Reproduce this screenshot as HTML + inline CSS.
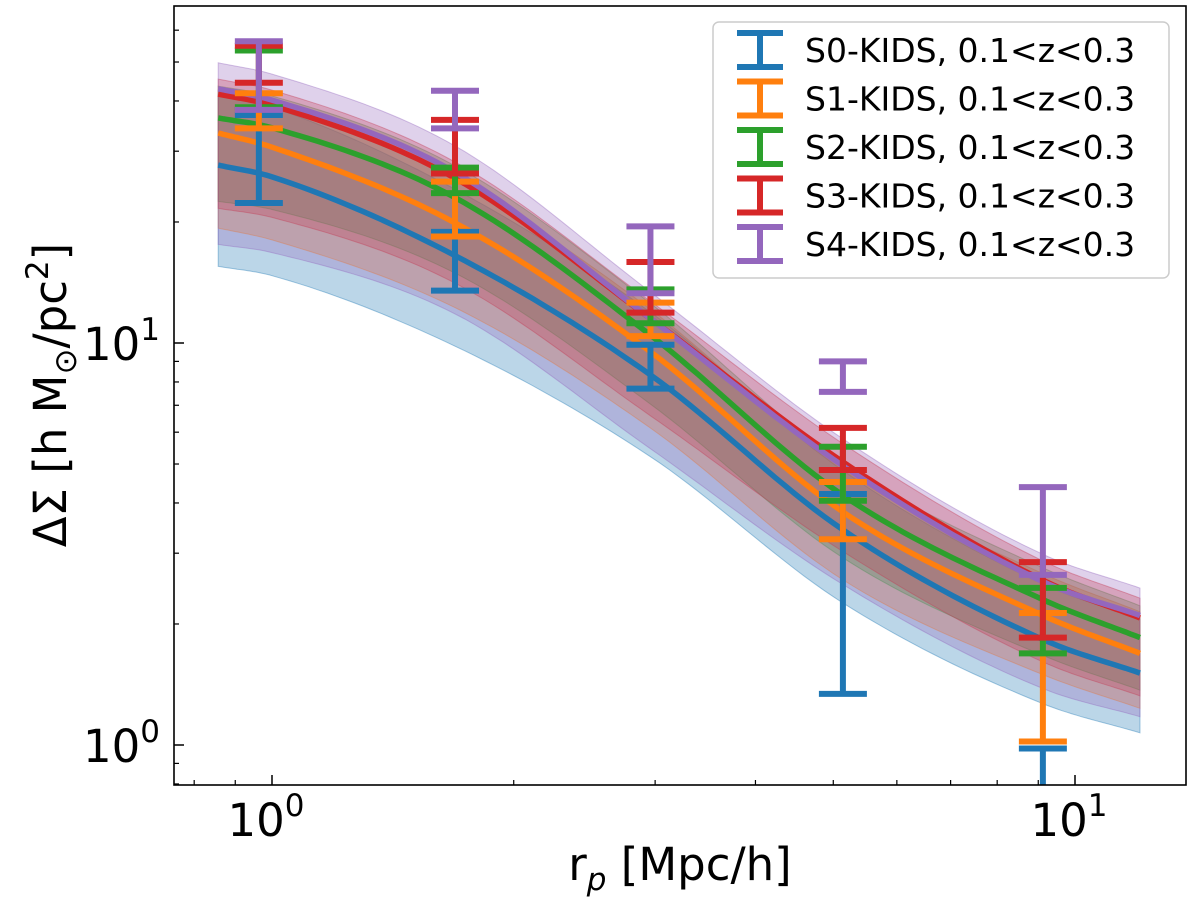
<!DOCTYPE html>
<html><head><meta charset="utf-8"><style>
body{margin:0;background:#fff;width:1200px;height:900px;overflow:hidden}
svg{display:block;font-family:"DejaVu Sans","Liberation Sans",sans-serif}
</style></head><body>
<svg id="chart" width="1200" height="900" viewBox="0 0 1200 900">
<defs><clipPath id="plotclip"><rect x="174" y="6" width="1012" height="779"/></clipPath></defs>
<g id="fills" clip-path="url(#plotclip)"></g>
<g id="lines" clip-path="url(#plotclip)"></g>
<g id="bars" clip-path="url(#plotclip)"></g>
<rect x="174" y="6" width="1012" height="779" fill="none" stroke="#000" stroke-width="1.6"/>
<g id="ticks"></g>
<text x="680" y="880" font-size="45" text-anchor="middle">r<tspan font-size="31" dy="10" font-style="italic">p</tspan><tspan dy="-10"> [Mpc/h]</tspan></text>
<text transform="translate(66,395) rotate(-90)" font-size="45" text-anchor="middle">ΔΣ [h M<tspan font-size="31" dy="10">⊙</tspan><tspan dy="-10">/pc</tspan><tspan font-size="31" dy="-18">2</tspan><tspan dy="18">]</tspan></text>
<g id="legend">
<rect x="713" y="22" width="456" height="256" rx="6" fill="#fff" fill-opacity="0.85" stroke="#ccc" stroke-width="1.5"/>
</g>
</svg>
<script>
const categories = ["S0-KIDS, 0.1<z<0.3","S1-KIDS, 0.1<z<0.3","S2-KIDS, 0.1<z<0.3","S3-KIDS, 0.1<z<0.3","S4-KIDS, 0.1<z<0.3"];
const colors = ["#1f77b4","#ff7f0e","#2ca02c","#d62728","#9467bd"];
const modelR = [0.857,1,1.69,2.96,5.14,9.12,12.05];
const modelS0 = [27.7,25.9,16.5,8.33,3.43,1.83,1.51];
const modelS1 = [33.3,30.7,19.9,9.51,3.80,2.10,1.69];
const modelS2 = [36.3,34.3,23.0,10.46,4.18,2.30,1.85];
const modelS3 = [41.6,39.0,25.7,11.5,5.06,2.57,2.07];
const modelS4 = [42.9,40.2,26.6,11.5,4.95,2.55,2.10];
const bandLoStart = [0.56,0.58,0.62,0.52,0.41];
const bandLoEnd = [0.71,0.73,0.74,0.64,0.56];
const bandHiStart = [1.5,1.28,1.2,1.09,1.16];
const bandHiEnd = [1.36,1.27,1.2,1.12,1.17];
const dataR = [0.963,1.69,2.96,5.14,9.12];
const errLoS0 = [22.3,13.5,7.7,1.34,0.7];
const errHiS0 = [36.9,18.9,9.9,4.21,0.98];
const errLoS1 = [34.2,18.4,10.4,3.25,1.02];
const errHiS1 = [41.8,25.2,12.6,4.51,2.13];
const errLoS2 = [38.6,23.6,11.2,4.05,1.69];
const errHiS2 = [53.4,27.3,13.6,5.52,2.46];
const errLoS3 = [44.4,26.4,11.9,4.83,1.85];
const errHiS3 = [54.9,35.9,15.9,6.15,2.85];
const errLoS4 = [38,34.2,13.3,7.56,2.65];
const errHiS4 = [56.3,42.4,19.5,9.0,4.38];
const xMajor = [1,10];
const yMajor = [1,10];
const xMinor = [0.8,0.9,2,3,4,5,6,7,8,9];
const yMinor = [0.8,0.9,2,3,4,5,6,7,8,9,20,30,40,50,60];

const models=[modelS0,modelS1,modelS2,modelS3,modelS4];
const errLo=[errLoS0,errLoS1,errLoS2,errLoS3,errLoS4];
const errHi=[errHiS0,errHiS1,errHiS2,errHiS3,errHiS4];
const X=v=>272+803*Math.log10(v);
const Y=v=>745-402*Math.log10(v);
const NS='http://www.w3.org/2000/svg';
function mk(tag,attrs,parent){const e=document.createElementNS(NS,tag);for(const k in attrs)e.setAttribute(k,attrs[k]);parent.appendChild(e);return e;}
function dense(xs,ys){const lx=xs.map(Math.log10),ly=ys.map(Math.log10),n=lx.length,out=[];
 const d=[];for(let i=0;i<n-1;i++)d.push((ly[i+1]-ly[i])/(lx[i+1]-lx[i]));
 const m=[d[0]];for(let i=1;i<n-1;i++)m.push((d[i-1]+d[i])/2);m.push(d[n-2]);
 for(let i=0;i<n-1;i++){const h=lx[i+1]-lx[i];
  for(let k=0;k<20;k++){const t=k/20,h00=2*t*t*t-3*t*t+1,h10=t*t*t-2*t*t+t,h01=-2*t*t*t+3*t*t,h11=t*t*t-t*t;
   out.push([lx[i]+t*h,h00*ly[i]+h10*h*m[i]+h01*ly[i+1]+h11*h*m[i+1]]);}}
 out.push([lx[n-1],ly[n-1]]);return out;}
const fills=document.getElementById('fills'),lines=document.getElementById('lines'),bars=document.getElementById('bars');
const lx0=Math.log10(modelR[0]),lx1=Math.log10(modelR[modelR.length-1]);
models.forEach((m,s)=>{
 const pts=dense(modelR,m);
 const up=[],dn=[];
 pts.forEach(([lx,ly])=>{const f=(lx-lx0)/(lx1-lx0);
  const lo=Math.log10(bandLoStart[s])*(1-f)+Math.log10(bandLoEnd[s])*f;
  const hi=Math.log10(bandHiStart[s])*(1-f)+Math.log10(bandHiEnd[s])*f;
  const px=272+803*lx;
  up.push(px.toFixed(1)+','+(745-402*(ly+hi)).toFixed(1));
  dn.push(px.toFixed(1)+','+(745-402*(ly+lo)).toFixed(1));});
 const band=mk('polygon',{points:up.concat(dn.reverse()).join(' '),fill:colors[s],'fill-opacity':0.3,stroke:colors[s],'stroke-opacity':0.4,'stroke-width':1},fills);
 
 
 const line=mk('polyline',{points:pts.map(([lx,ly])=>(272+803*lx).toFixed(1)+','+(745-402*ly).toFixed(1)).join(' '),fill:'none',stroke:colors[s],'stroke-width':5.5},lines);
 
 
});
errLo.forEach((lo,s)=>{dataR.forEach((r,i)=>{
 const x=X(r),y1=Y(errHi[s][i]),y2=Y(lo[i]);
 const g=mk('g',{stroke:colors[s],'stroke-width':6},bars);
 
 
 mk('line',{x1:x,x2:x,y1:y1,y2:y2},g);
 mk('line',{x1:x-24,x2:x+24,y1:y1,y2:y1},g);
 mk('line',{x1:x-24,x2:x+24,y1:y2,y2:y2},g);
});});
const tk=document.getElementById('ticks');
xMajor.forEach(v=>{const x=X(v);mk('line',{x1:x,x2:x,y1:785,y2:775,stroke:'#000','stroke-width':1.5},tk);
 const t=mk('text',{x:x-6,y:836,'font-size':45,'text-anchor':'middle'},tk);t.innerHTML='10<tspan font-size="31" dy="-20">'+Math.round(Math.log10(v))+'</tspan>';
 
 });
xMinor.forEach(v=>{const x=X(v);mk('line',{x1:x,x2:x,y1:785,y2:780,stroke:'#000','stroke-width':1.2},tk);});
yMajor.forEach(v=>{const y=Y(v);mk('line',{x1:174,x2:184,y1:y,y2:y,stroke:'#000','stroke-width':1.5},tk);
 const t=mk('text',{x:160,y:y+17,'font-size':45,'text-anchor':'end'},tk);t.innerHTML='10<tspan font-size="31" dy="-20">'+Math.round(Math.log10(v))+'</tspan>';
 
 });
yMinor.forEach(v=>{const y=Y(v);if(y>6&&y<785)mk('line',{x1:174,x2:179,y1:y,y2:y,stroke:'#000','stroke-width':1.2},tk);});
const lg=document.getElementById('legend');
categories.forEach((c,s)=>{const y=50+48.5*s;
 const g=mk('g',{stroke:colors[s],'stroke-width':6},lg);
 
 
 mk('line',{x1:760,x2:760,y1:y-17,y2:y+17},g);
 mk('line',{x1:737,x2:783,y1:y-17,y2:y-17},g);
 mk('line',{x1:737,x2:783,y1:y+17,y2:y+17},g);
 const t=mk('text',{x:805,y:y+12,'font-size':33,fill:'#000'},lg);t.textContent=c;
 
 
});
</script>
</body></html>
